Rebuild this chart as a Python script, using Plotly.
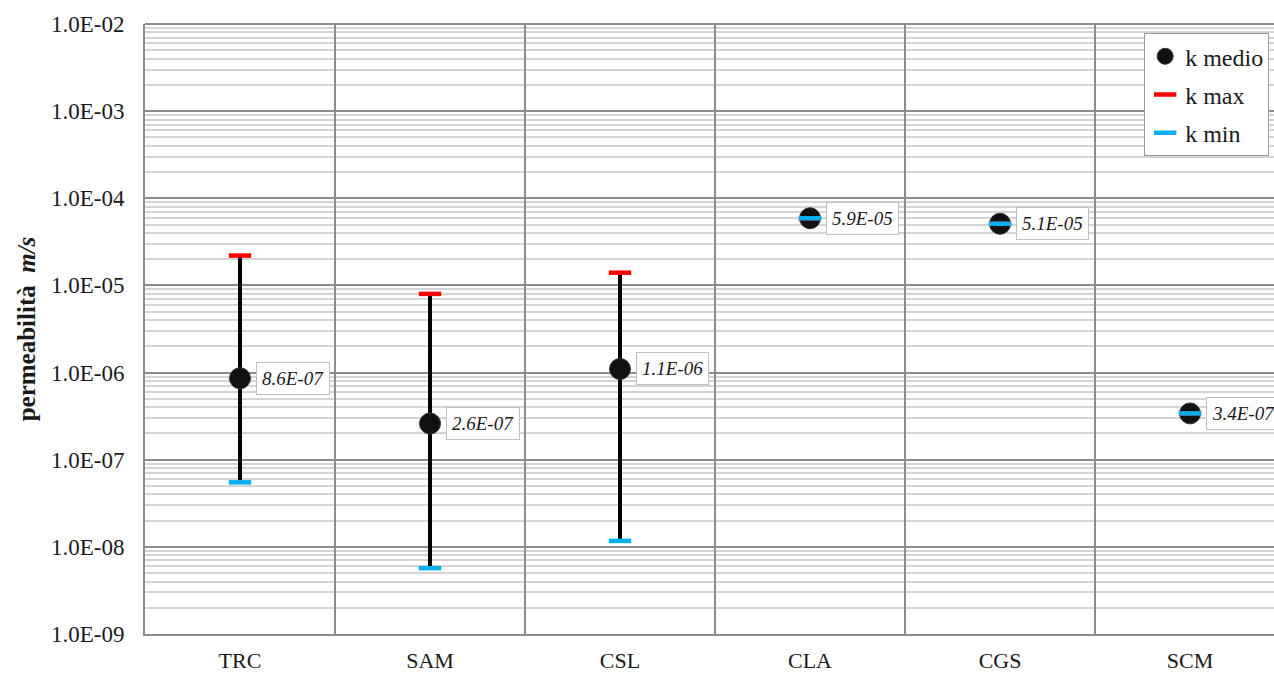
import numpy as np
import plotly.graph_objects as go

categories = ["TRC", "SAM", "CSL", "CLA", "CGS", "SCM"]
k_medio = [8.6e-07, 2.6e-07, 1.1e-06, 5.9e-05, 5.1e-05, 3.4e-07]
k_max = [2.2e-05, 8.0e-06, 1.4e-05, 5.9e-05, 5.1e-05, 3.4e-07]
k_min = [5.5e-08, 5.7e-09, 1.17e-08, 5.9e-05, 5.1e-05, 3.4e-07]
y_tick_vals = [1e-9, 1e-8, 1e-7, 1e-6, 1e-5, 1e-4, 1e-3, 1e-2]
y_tick_text = ["1.0E-09", "1.0E-08", "1.0E-07", "1.0E-06", "1.0E-05", "1.0E-04", "1.0E-03", "1.0E-02"]

FONT = "Liberation Serif"
MAJOR = "#8c8c8c"
MINOR = "#d4d4d4"
TXT = "#1a1a1a"

fig = go.Figure()

fig.add_trace(go.Scatter(
    x=categories, y=k_medio, mode="markers", name="k medio", legendgroup="a",
    marker=dict(symbol="circle", size=21, color="#111111", line=dict(color="#333333", width=1)),
    error_y=dict(type="data", symmetric=False,
                 array=[mx - m for mx, m in zip(k_max, k_medio)],
                 arrayminus=[m - mn for m, mn in zip(k_medio, k_min)],
                 thickness=4, width=0, color="black"),
    cliponaxis=False,
))
fig.add_trace(go.Scatter(
    x=categories, y=k_max, mode="markers", name="k max", legendgroup="b",
    marker=dict(symbol="line-ew", size=16, line=dict(color="#ff0000", width=4.5)),
    cliponaxis=False,
))
fig.add_trace(go.Scatter(
    x=categories, y=k_min, mode="markers", name="k min", legendgroup="c",
    marker=dict(symbol="line-ew", size=16, line=dict(color="#00b0f0", width=4.5)),
    cliponaxis=False,
))

for c, v in zip(categories, k_medio):
    fig.add_annotation(
        x=c, y=np.log10(v), xref="x", yref="y",
        text="<i>" + f"{v:.1E}" + "</i>", showarrow=False, xanchor="left", yanchor="middle",
        xshift=16, font=dict(family=FONT, size=19, color=TXT),
        bgcolor="white", bordercolor="#bfbfbf", borderwidth=1, borderpad=5,
    )

minor_vals = [m * 10.0 ** e for e in range(-9, -2) for m in range(2, 10)]

fig.update_layout(
    width=1274, height=673,
    margin=dict(l=145, r=0, t=24, b=39, autoexpand=False),
    paper_bgcolor="white", plot_bgcolor="white",
    font=dict(family=FONT, size=22, color=TXT),
    showlegend=True,
    legend=dict(
        x=0.885, y=0.985, xanchor="left", yanchor="top",
        bgcolor="white", bordercolor="#9a9a9a", borderwidth=1,
        font=dict(family=FONT, size=24, color=TXT),
        tracegroupgap=4, itemwidth=30,
    ),
    xaxis=dict(
        type="category", categoryorder="array", categoryarray=categories,
        range=[-0.5, 5.442], tickson="boundaries", showgrid=True,
        gridcolor=MAJOR, gridwidth=2, ticks="", ticklabelstandoff=6,
        showline=True, linecolor=MAJOR, linewidth=2, zeroline=False,
        tickfont=dict(family=FONT, size=22, color=TXT), automargin=False,
    ),
    yaxis=dict(
        type="log", range=[-9, -2], tickvals=y_tick_vals, ticktext=y_tick_text,
        showgrid=True, gridcolor=MAJOR, gridwidth=2, ticks="",
        ticklabelstandoff=14, showline=True, linecolor=MAJOR, linewidth=2,
        mirror=False, zeroline=False, automargin=False,
        tickfont=dict(family=FONT, size=23, color=TXT),
        minor=dict(tickvals=minor_vals, showgrid=True, gridcolor=MINOR, gridwidth=1.5, ticks=""),
        title=dict(text="<b>permeabilità  <i>m/s</i></b>", font=dict(family=FONT, size=25, color=TXT), standoff=8),
    ),
)
fig.add_shape(type="line", xref="paper", yref="paper", x0=0, x1=1, y0=1, y1=1,
              line=dict(color=MAJOR, width=2))

fig.write_html("out.html", config={"displayModeBar": False},
               post_script="document.body.style.margin='0px';document.body.style.overflow='hidden';")
